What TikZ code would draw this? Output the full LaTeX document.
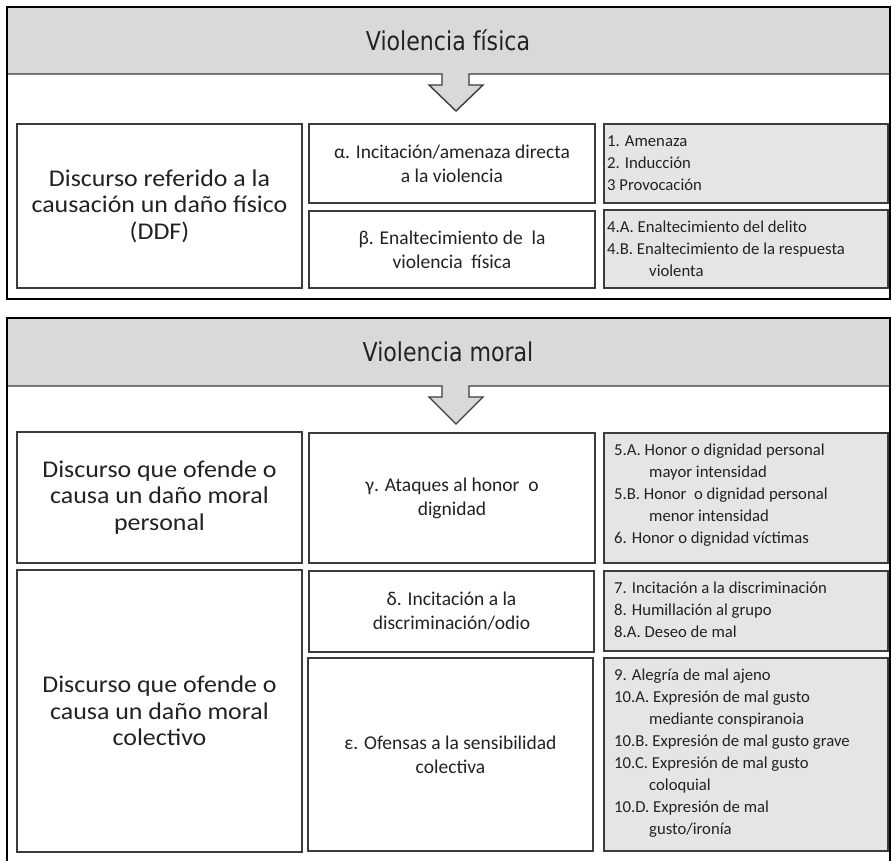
\documentclass[tikz,border=0pt]{standalone}
\usepackage{fontspec}
\setmainfont{Carlito}
\newfontfamily\titlefont[FakeStretch=0.85]{DejaVu Sans}
\newfontfamily\leftfont[FakeStretch=1.08]{Carlito}
\definecolor{bandgray}{HTML}{D9D9D9}
\definecolor{listgray}{HTML}{E5E5E5}
\definecolor{boxline}{HTML}{3C3C3C}
\definecolor{txt}{HTML}{222222}
\begin{document}
\begin{tikzpicture}[x=1pt,y=-1pt,
  panel/.style={draw=black, line width=1.6pt},
  bandline/.style={draw=boxline, line width=1.4pt, fill=bandgray, line join=miter},
  titletext/.style={font=\titlefont\fontsize{26}{30}\selectfont, text=txt, inner sep=0pt},
  cell/.style={draw=boxline, line width=1.5pt, fill=white, inner sep=0pt, align=center, text=txt},
  leftcell/.style={cell, font=\leftfont\fontsize{24}{26.5}\selectfont},
  midcell/.style={cell, font=\fontsize{19.5}{24}\selectfont},
  listcell/.style={cell, fill=listgray},
  listtext/.style={anchor=north west, inner sep=0pt, align=left, text=txt, font=\fontsize{16.7}{22}\selectfont},
]
\useasboundingbox (0,0) rectangle (892,861);
\clip (0,0) rectangle (892,861);

% ---------- top panel ----------
\fill[white] (7,7) rectangle (890,299);
\fill[bandgray] (7,7) rectangle (890,74);
\draw[bandline] (7,74) -- (442,74) -- (442,85) -- (429,85) -- (456,111) -- (483,85) -- (469,85) -- (469,74) -- (890,74);
\draw[panel] (7,7) rectangle (890,299);
\node[titletext] (t1) at (448,40) {Violencia física};

\node[leftcell, minimum width=285pt, minimum height=164pt] (l1) at (159.5,206) {Discurso referido a la\\causación un daño físico\\(DDF)};
\node[midcell, minimum width=286pt, minimum height=79pt] (m1) at (452,163.5) {α. Incitación/amenaza directa\\a la violencia};
\node[midcell, minimum width=286pt, minimum height=77pt] (m2) at (452,249.5) {β. Enaltecimiento de\ \ la\\violencia\ \ física};
\node[listcell, minimum width=284pt, minimum height=79pt] (r1) at (746,163.5) {};
\node[listcell, minimum width=284pt, minimum height=78pt] (r2) at (746,249) {};
\node[listtext] (r1t) at (607,131) {\strut 1. Amenaza\\2. Inducción\\3 Provocación};
\node[listtext] (r2t) at (607,217) {\strut 4.A. Enaltecimiento del delito\\4.B. Enaltecimiento de la respuesta\\\hspace*{42pt}violenta};

% ---------- bottom panel ----------
\fill[white] (7,318) rectangle (890,875);
\fill[bandgray] (7,318) rectangle (890,386);
\draw[bandline] (7,386) -- (442,386) -- (442,397) -- (429,397) -- (456,424) -- (483,397) -- (469,397) -- (469,386) -- (890,386);
\draw[panel] (7,318) rectangle (890,875);
\node[titletext] (t2) at (448,352) {Violencia moral};

\node[leftcell, minimum width=285pt, minimum height=131pt] (l3) at (159.5,497.5) {Discurso que ofende o\\causa un daño moral\\personal};
\node[leftcell, minimum width=285pt, minimum height=282pt] (l4) at (159.5,711) {Discurso que ofende o\\causa un daño moral\\colectivo};
\node[midcell, minimum width=286pt, minimum height=130pt] (m3) at (452,498) {γ. Ataques al honor\ \ o\\dignidad};
\node[midcell, minimum width=285pt, minimum height=81pt] (m4) at (451.5,611.5) {δ. Incitación a la\\discriminación/odio};
\node[midcell, minimum width=285pt, minimum height=193pt] (m5) at (450.5,754.5) {ε. Ofensas a la sensibilidad\\colectiva};
\node[listcell, minimum width=284pt, minimum height=130pt] (r3) at (746,498) {};
\node[listcell, minimum width=284pt, minimum height=80pt] (r4) at (746,611) {};
\node[listcell, minimum width=284pt, minimum height=193pt] (r5) at (746,754.5) {};
\node[listtext] (r3t) at (614,440) {\strut 5.A. Honor o dignidad personal\\\hspace*{35pt}mayor intensidad\\5.B. Honor\ \ o dignidad personal\\\hspace*{35pt}menor intensidad\\6. Honor o dignidad víctimas};
\node[listtext] (r4t) at (614,578) {\strut 7. Incitación a la discriminación\\8. Humillación al grupo\\8.A. Deseo de mal};
\node[listtext] (r5t) at (614,665) {\strut 9. Alegría de mal ajeno\\10.A. Expresión de mal gusto\\\hspace*{35pt}mediante conspiranoia\\10.B. Expresión de mal gusto grave\\10.C. Expresión de mal gusto\\\hspace*{35pt}coloquial\\10.D. Expresión de mal\\\hspace*{35pt}gusto/ironía};
\end{tikzpicture}
\end{document}
